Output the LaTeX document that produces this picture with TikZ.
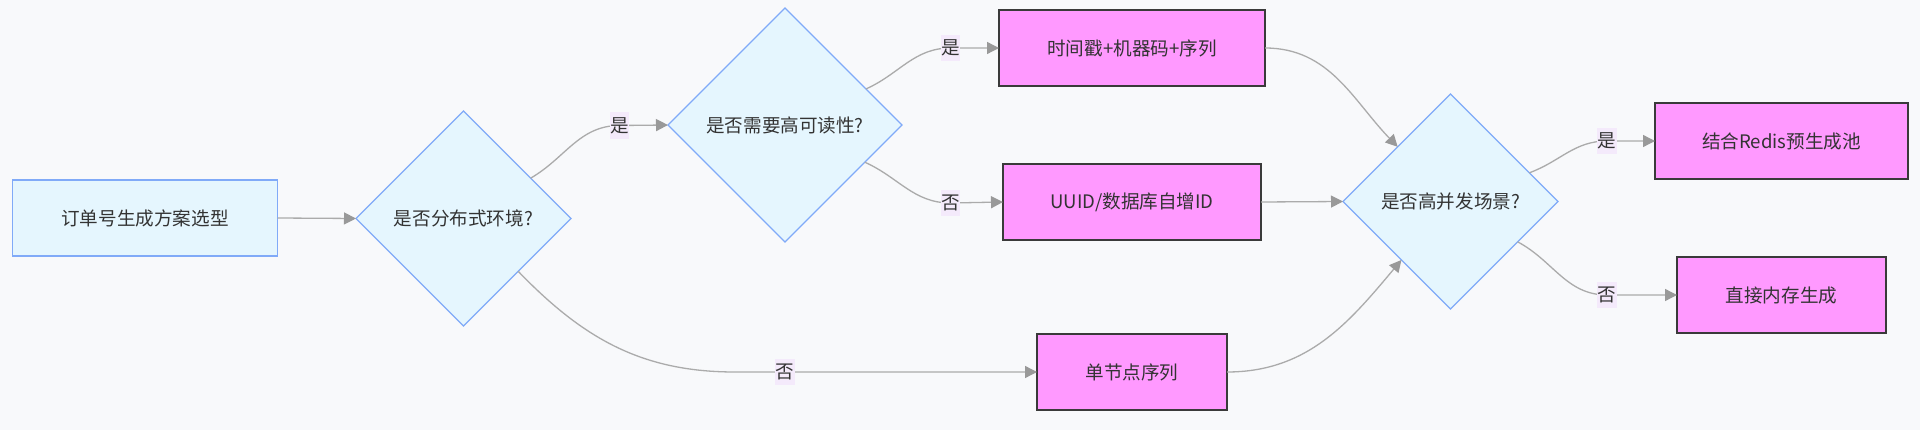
\documentclass[tikz,border=0pt]{standalone}
\usepackage{fontspec}
\newfontfamily\cjk{Noto Sans CJK SC}
\usetikzlibrary{shapes.geometric,arrows.meta}
\definecolor{bgc}{HTML}{F8F9FB}
\definecolor{bluefill}{HTML}{E5F6FE}
\definecolor{bluedraw}{HTML}{80AAF8}
\definecolor{pinkfill}{HTML}{FF99FF}
\definecolor{pinkdraw}{HTML}{3A3A3A}
\definecolor{edgec}{HTML}{ABABAB}
\definecolor{tipc}{HTML}{999999}
\definecolor{lblc}{HTML}{F4EAFB}
\definecolor{txt}{HTML}{333333}
\tikzset{
  base/.style={font=\cjk\fontsize{18.6}{22}\selectfont, text=txt, inner sep=0pt, outer sep=0pt},
  startbox/.style={base, rectangle, fill=bluefill, draw=bluedraw, line width=1.8pt, minimum height=76},
  dia/.style={base, diamond, fill=bluefill, draw=bluedraw, line width=1.2pt, minimum width=215, minimum height=215},
  pinkbox/.style={base, rectangle, fill=pinkfill, draw=pinkdraw, line width=1.5pt, minimum height=76},
  edge/.style={draw=edgec, line width=1.3pt, -{Triangle[length=12pt,width=12pt,fill=tipc,color=tipc]}},
  lbl/.style={base, fill=lblc, inner xsep=0.5pt, inner ysep=5pt}
}
\begin{document}
\begin{tikzpicture}[x=1pt,y=-1pt]
\fill[bgc] (0,0) rectangle (1920,430);
\useasboundingbox (0,0) rectangle (1920,430);

% nodes
\node[startbox, minimum width=265] (start) at (145,218) {订单号生成方案选型};
\node[dia] (d1) at (463.5,218.5) {是否分布式环境?};
\node[dia, minimum width=234, minimum height=234] (d2) at (785,125) {是否需要高可读性?};
\node[pinkbox, minimum width=266] (ts) at (1132,48) {时间戳+机器码+序列};
\node[pinkbox, minimum width=258] (uuid) at (1132,202) {UUID/数据库自增ID};
\node[pinkbox, minimum width=190] (single) at (1132,372) {单节点序列};
\node[dia] (d3) at (1450.5,201.5) {是否高并发场景?};
\node[pinkbox, minimum width=253] (redis) at (1781.5,141) {结合Redis预生成池};
\node[pinkbox, minimum width=209] (mem) at (1781.5,295) {直接内存生成};

% label positions
\coordinate (l1) at (619.5,125.5);
\coordinate (l2) at (785,372);
\coordinate (l3) at (950.5,48);
\coordinate (l4) at (950.5,203);
\coordinate (l5) at (1607,141);
\coordinate (l6) at (1607,295);
\coordinate (flat) at (735,372);

% connectors
\draw[edge] (start.east) -- (d1.west);
\draw[edge] (d1.31) to[out=30,in=180] (l1) -- (d2.west);
\draw[edge] (d1.-44.5) to[out=-46,in=180] (flat) -- (single.west);
\draw[edge] (d2.24.5) to[out=24,in=180] (l3) -- (ts.west);
\draw[edge] (d2.-25.5) to[out=-24,in=180] (l4) -- (uuid.west);
\draw[edge] (ts.east) to[out=0,in=134] (d3.134);
\draw[edge] (uuid.east) -- (d3.west);
\draw[edge] (single.east) to[out=0,in=230] (d3.230);
\draw[edge] (d3.20) to[out=20,in=180] (l5) -- (redis.west);
\draw[edge] (d3.-31) to[out=-28,in=180] (l6) -- (mem.west);

% edge labels
\node[lbl] (t1) at (l1) {是};
\node[lbl] (t2) at (l2) {否};
\node[lbl] (t3) at (l3) {是};
\node[lbl] (t4) at (l4) {否};
\node[lbl] (t5) at (l5) {是};
\node[lbl] (t6) at (l6) {否};
\end{tikzpicture}
\end{document}
